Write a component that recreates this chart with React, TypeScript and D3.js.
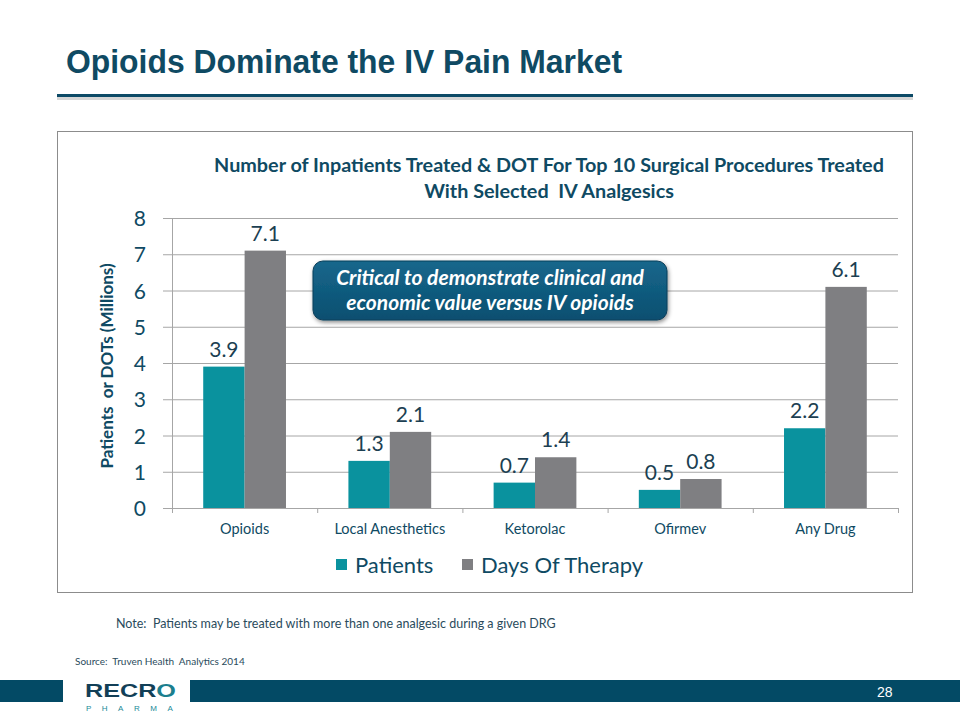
import React, { useEffect, useRef } from "react";
import * as d3 from "d3";

const categories = ["Opioids", "Local Anesthetics", "Ketorolac", "Ofirmev", "Any Drug"];
const patients = [3.9, 1.3, 0.7, 0.5, 2.2];
const daysOfTherapy = [7.1, 2.1, 1.4, 0.8, 6.1];
const seriesNames = ["Patients", "Days Of Therapy"];
const yTicks = [0, 1, 2, 3, 4, 5, 6, 7, 8];

const TEAL = "#0a929e";
const GRAY = "#7f7f82";
const DARK = "#0f4a63";
const FONT = "Lato, 'Open Sans', sans-serif";

export default function App() {
  const ref = useRef<SVGSVGElement>(null);

  useEffect(() => {
    const svg = d3.select(ref.current);
    svg.selectAll("*").remove();

    const defs = svg.append("defs");
    const grad = defs.append("linearGradient").attr("id", "callGrad").attr("x1", 0).attr("y1", 0).attr("x2", 0).attr("y2", 1);
    grad.append("stop").attr("offset", "0%").attr("stop-color", "#16678c");
    grad.append("stop").attr("offset", "100%").attr("stop-color", "#0b4f70");
    const sh = defs.append("filter").attr("id", "shadow").attr("x", "-10%").attr("y", "-10%").attr("width", "130%").attr("height", "140%");
    sh.append("feDropShadow").attr("dx", 1).attr("dy", 2).attr("stdDeviation", 2).attr("flood-color", "#000").attr("flood-opacity", 0.45);

    // Title
    svg.append("text").attr("x", 66).attr("y", 73).attr("font-family", "'Liberation Sans', Arial, sans-serif")
      .attr("font-weight", "bold").attr("font-size", 33).attr("fill", DARK)
      .attr("textLength", 556).attr("lengthAdjust", "spacingAndGlyphs")
      .text("Opioids Dominate the IV Pain Market");
    svg.append("rect").attr("x", 57).attr("y", 97).attr("width", 856).attr("height", 3).attr("fill", "#bbb").attr("opacity", 0.6);
    svg.append("rect").attr("x", 57).attr("y", 94).attr("width", 856).attr("height", 3).attr("fill", "#0d4a66");

    // Chart frame
    svg.append("rect").attr("x", 57.5).attr("y", 131.5).attr("width", 855).attr("height", 461)
      .attr("fill", "#fff").attr("stroke", "#8c8c8c").attr("stroke-width", 1);

    svg.append("text").attr("x", 549).attr("y", 172).attr("text-anchor", "middle").attr("font-family", FONT)
      .attr("font-weight", "bold").attr("font-size", 19.8).attr("fill", DARK)
      .text("Number of Inpatients Treated & DOT For Top 10 Surgical Procedures Treated");
    svg.append("text").attr("x", 549).attr("y", 198).attr("text-anchor", "middle").attr("font-family", FONT)
      .attr("font-weight", "bold").attr("font-size", 19.8).attr("fill", DARK).attr("xml:space", "preserve")
      .text("With Selected  IV Analgesics");

    const left = 172, right = 898, top = 218, bottom = 508;
    const x0 = d3.scaleBand().domain(categories).range([left, right]).paddingInner(0.43).paddingOuter(0.215);
    const x1 = d3.scaleBand().domain(seriesNames).range([0, x0.bandwidth()]);
    const y = d3.scaleLinear().domain([0, 8]).range([bottom, top]);

    const g = svg.append("g");
    // grid
    g.selectAll(".grid").data(yTicks).enter().append("line")
      .attr("x1", left - 9).attr("x2", right).attr("y1", (d) => y(d) + 0.5).attr("y2", (d) => y(d) + 0.5)
      .attr("stroke", "#a6a6a6").attr("stroke-width", 1);
    g.append("line").attr("x1", left + 0.5).attr("x2", left + 0.5).attr("y1", top).attr("y2", bottom + 4)
      .attr("stroke", "#a6a6a6");
    // x tick marks
    const bounds = categories.map((_, i) => left + (i * (right - left)) / categories.length).concat([right]);
    g.selectAll(".xt").data(bounds).enter().append("line")
      .attr("x1", (d) => d + 0.5).attr("x2", (d) => d + 0.5).attr("y1", bottom).attr("y2", bottom + 5).attr("stroke", "#a6a6a6");

    g.selectAll(".ylab").data(yTicks).enter().append("text")
      .attr("x", 146).attr("y", (d) => y(d) + 8).attr("text-anchor", "end").attr("font-family", FONT)
      .attr("font-size", 21).attr("fill", DARK).text((d) => d);

    const rows = categories.map((c, i) => ({ c, vals: [patients[i], daysOfTherapy[i]] }));
    const grp = g.selectAll(".grp").data(rows).enter().append("g").attr("transform", (d) => `translate(${x0(d.c)},0)`);
    grp.selectAll("rect").data((d) => d.vals.map((v, j) => ({ v, s: seriesNames[j] }))).enter().append("rect")
      .attr("x", (d) => x1(d.s)!).attr("width", x1.bandwidth()).attr("y", (d) => y(d.v)).attr("height", (d) => bottom - y(d.v))
      .attr("fill", (d) => (d.s === seriesNames[0] ? TEAL : GRAY));
    grp.selectAll("text").data((d) => d.vals.map((v, j) => ({ v, s: seriesNames[j] }))).enter().append("text")
      .attr("x", (d) => x1(d.s)! + x1.bandwidth() / 2).attr("y", (d) => y(d.v) - 10).attr("text-anchor", "middle")
      .attr("font-family", FONT).attr("font-size", 21).attr("fill", "#1c3f52").text((d) => d.v.toFixed(1));

    g.selectAll(".xlab").data(categories).enter().append("text")
      .attr("x", (d) => x0(d)! + x0.bandwidth() / 2).attr("y", 534).attr("text-anchor", "middle")
      .attr("font-family", FONT).attr("font-size", 14.5).attr("fill", DARK).text((d) => d);

    svg.append("text").attr("transform", "translate(113,366) rotate(-90)").attr("text-anchor", "middle")
      .attr("font-family", FONT).attr("font-weight", "bold").attr("font-size", 17).attr("fill", DARK)
      .attr("xml:space", "preserve")
      .text("Patients  or DOTs (Millions)");

    // Legend
    const legend = [
      { name: seriesNames[0], color: TEAL, x: 336 },
      { name: seriesNames[1], color: GRAY, x: 462 },
    ];
    const lg = svg.selectAll(".lg").data(legend).enter().append("g");
    lg.append("rect").attr("x", (d) => d.x).attr("y", 559).attr("width", 11).attr("height", 11).attr("fill", (d) => d.color);
    lg.append("text").attr("x", (d) => d.x + 19).attr("y", 573).attr("font-family", FONT).attr("font-size", 22)
      .attr("fill", DARK).text((d) => d.name);

    // Callout
    svg.append("rect").attr("x", 313).attr("y", 261).attr("width", 354).attr("height", 59).attr("rx", 10)
      .attr("fill", "url(#callGrad)").attr("stroke", "#0a3f5a").attr("stroke-width", 1).attr("filter", "url(#shadow)");
    svg.append("text").attr("x", 490).attr("y", 285).attr("text-anchor", "middle").attr("font-family", FONT)
      .attr("font-weight", "bold").attr("font-style", "italic").attr("font-size", 21).attr("fill", "#fff")
      .text("Critical to demonstrate clinical and");
    svg.append("text").attr("x", 490).attr("y", 310).attr("text-anchor", "middle").attr("font-family", FONT)
      .attr("font-weight", "bold").attr("font-style", "italic").attr("font-size", 21).attr("fill", "#fff")
      .text("economic value versus IV opioids");

    // Notes
    svg.append("text").attr("x", 116).attr("y", 628).attr("font-family", FONT).attr("font-size", 12.5).attr("fill", "#2a4b5c")
      .attr("xml:space", "preserve")
      .text("Note:  Patients may be treated with more than one analgesic during a given DRG");
    svg.append("text").attr("x", 75).attr("y", 665).attr("font-family", FONT).attr("font-size", 10).attr("fill", "#2a4b5c")
      .attr("xml:space", "preserve")
      .text("Source:  Truven Health  Analytics 2014");

    // Footer
    svg.append("rect").attr("x", 0).attr("y", 680).attr("width", 960).attr("height", 22).attr("fill", "#034a65");
    svg.append("rect").attr("x", 63).attr("y", 677).attr("width", 127).attr("height", 43).attr("fill", "#fff");
    const logo = svg.append("text").attr("x", 85).attr("y", 697).attr("font-family", "'Liberation Sans', Arial, sans-serif")
      .attr("font-weight", "bold").attr("font-size", 18).attr("textLength", 91).attr("lengthAdjust", "spacingAndGlyphs");
    logo.append("tspan").attr("fill", "#123f57").text("RECR");
    logo.append("tspan").attr("fill", "#1b7f8e").text("O");
    svg.append("text").attr("x", 86).attr("y", 711).attr("font-family", "'Liberation Sans', Arial, sans-serif")
      .attr("font-size", 8).attr("fill", "#1b8a98").attr("letter-spacing", 10.5).text("PHARMA");
    svg.append("text").attr("x", 877).attr("y", 697).attr("font-family", "'Liberation Sans', Arial, sans-serif")
      .attr("font-size", 14).attr("fill", "#fff").text("28");
  }, []);

  return (
    <svg ref={ref} width={960} height={720} style={{ position: "absolute", left: 0, top: 0, background: "#fff" }} />
  );
}
